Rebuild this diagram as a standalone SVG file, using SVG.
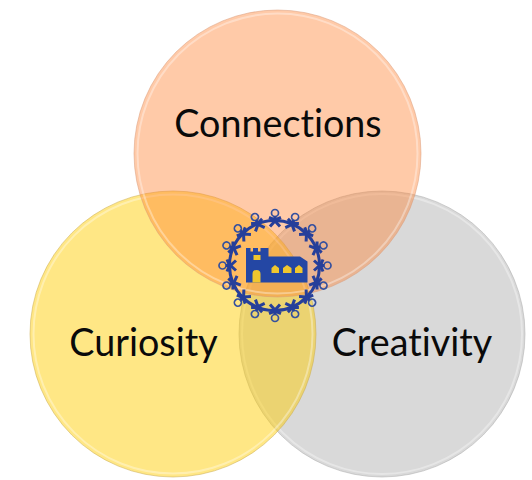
<svg xmlns="http://www.w3.org/2000/svg" width="532" height="480" viewBox="0 0 532 480">
<style>
.rim{fill:none;stroke:#fff;stroke-opacity:.35;stroke-width:2}
.edge{fill:none;stroke-width:1;stroke-opacity:.5}
text{font-family:"Lato","Liberation Sans",sans-serif;font-size:37.7px;fill:#0a0a0a;text-anchor:middle;font-variant-ligatures:none}
.fig{fill:none;stroke:#263f9a;stroke-width:3}
.head{fill:none;stroke:#34509f;stroke-width:1.700}
</style>
<defs>
<g id="person">
<circle class="head" cx="0" cy="-52.500" r="3.500"/>
<path class="fig" d="M0,-49 L0,-44 M-5,-39 L0,-44.500 L5,-39 M-6,-48 L0,-45.500 L6,-48"/>
</g>
</defs>
<rect width="532" height="480" fill="#fff"/>
<g id="creativity">
<circle cx="382" cy="334" r="143" fill="#a5a5a5" fill-opacity=".42"/>
<circle class="edge" cx="382" cy="334" r="143" stroke="#a8a8a8"/>
<circle class="rim" cx="382" cy="334" r="140"/>
</g>
<g id="curiosity">
<circle cx="173" cy="334" r="143" fill="#ffcc00" fill-opacity=".48"/>
<circle class="edge" cx="173" cy="334" r="143" stroke="#c9a94a"/>
<circle class="rim" cx="173" cy="334" r="139.500"/>
</g>
<g id="connections">
<circle cx="277.500" cy="153.500" r="143.500" fill="#ff8030" fill-opacity=".42"/>
<circle class="edge" cx="277.500" cy="153.500" r="143.500" stroke="#d99a78"/>
<circle class="rim" cx="277.500" cy="153.500" r="140"/>
</g>
<g id="labels">
<text x="278" y="136.500">Connections</text>
<text x="143.500" y="355.500">Curiosity</text>
<text x="412" y="355.500">Creativity</text>
</g>
<g id="logo">
<circle cx="274.500" cy="265.500" r="45" fill="none" stroke="#263f9a" stroke-width="3"/>
<g transform="translate(275,265.500)">
<use href="#person" transform="rotate(0)"/>
<use href="#person" transform="rotate(22.500)"/>
<use href="#person" transform="rotate(45)"/>
<use href="#person" transform="rotate(67.500)"/>
<use href="#person" transform="rotate(90)"/>
<use href="#person" transform="rotate(112.500)"/>
<use href="#person" transform="rotate(135)"/>
<use href="#person" transform="rotate(157.500)"/>
<use href="#person" transform="rotate(180)"/>
<use href="#person" transform="rotate(202.500)"/>
<use href="#person" transform="rotate(225)"/>
<use href="#person" transform="rotate(247.500)"/>
<use href="#person" transform="rotate(270)"/>
<use href="#person" transform="rotate(292.500)"/>
<use href="#person" transform="rotate(315)"/>
<use href="#person" transform="rotate(337.500)"/>
</g>
<path fill="#2447a4" d="M246,248 H250.500 V251.500 H253 V248 H258 V251.500 H260.500 V248 H268.500 V256.500 H300 L307.500,261.500 V282.500 H246 Z"/>
<rect x="253.500" y="255" width="7" height="5" fill="#f0c62e"/>
<path fill="#f0c62e" d="M252.500,282.500 V274 Q252.500,270 256.500,270 Q260.500,270 260.500,274 V282.500 Z M271.500,273 V268 L275,265 L279,268 V273 Z M283,273 V268 L287,265 L291.500,268 V273 Z M295,273 V268 L299,265 L302.500,268 V273 Z"/>
</g>
</svg>
